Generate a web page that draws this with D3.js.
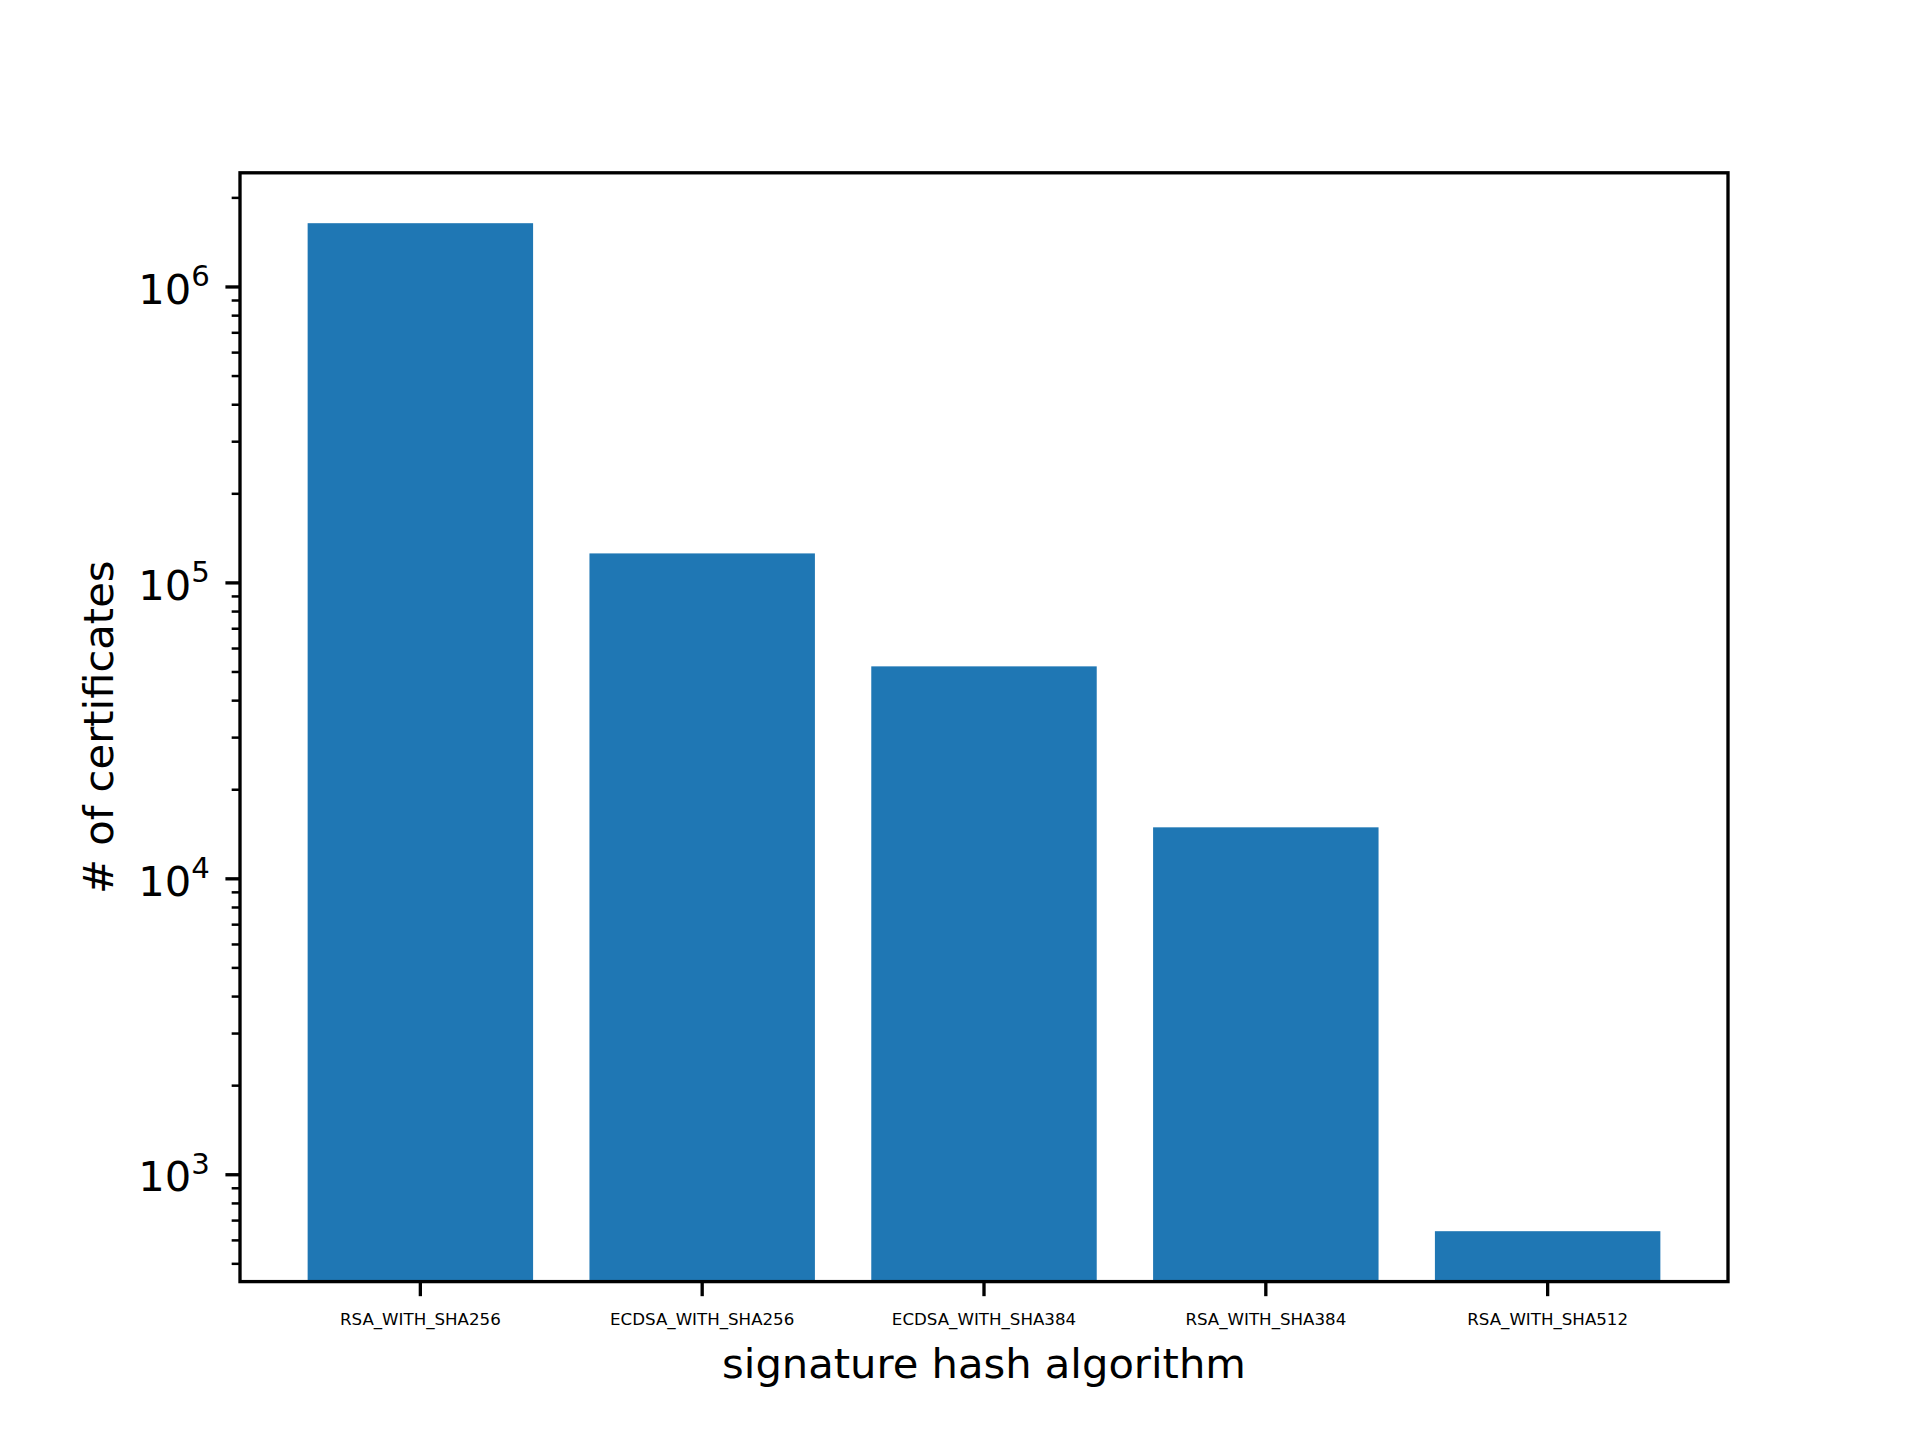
<!DOCTYPE html>
<html>
<head>
<meta charset="utf-8">
<script src="https://cdn.jsdelivr.net/npm/d3@7"></script>
<style>
  html, body { margin: 0; padding: 0; background: #fff; }
  svg { display: block; font-family: "DejaVu Sans", sans-serif; }
</style>
</head>
<body>
<svg id="chart" width="1920" height="1440"></svg>
<script>
const categories = ["RSA_WITH_SHA256", "ECDSA_WITH_SHA256", "ECDSA_WITH_SHA384", "RSA_WITH_SHA384", "RSA_WITH_SHA512"];
const counts = [1636000, 125300, 52030, 14870, 642];
const yMajorTicks = [1e3, 1e4, 1e5, 1e6];
const xLabel = "signature hash algorithm";
const yLabel = "# of certificates";

(function () {
const W = 1920, H = 1440;
const pt = 300 / 72;
const axLeft = 0.125 * W, axRight = 0.9 * W, axTop = 0.12 * H, axBottom = 0.89 * H;

const svg = d3.select("#chart");
svg.append("rect").attr("width", W).attr("height", H).attr("fill", "#fff");

const x = d3.scaleBand().domain(categories).range([axLeft, axRight])
  .paddingInner(0.2).paddingOuter(0.24);

const lmin = Math.log10(d3.min(counts)), lmax = Math.log10(d3.max(counts));
const r = lmax - lmin;
const y = d3.scaleLog().domain([Math.pow(10, lmin - 0.05 * r), Math.pow(10, lmax + 0.05 * r)])
  .range([axBottom, axTop]);

// bars
svg.append("g").selectAll("rect").data(categories).join("rect")
  .attr("x", d => x(d))
  .attr("width", x.bandwidth())
  .attr("y", (d, i) => y(counts[i]))
  .attr("height", (d, i) => axBottom - y(counts[i]))
  .attr("fill", "#1f77b4");

// minor ticks
const [d0, d1] = y.domain();
const minor = [];
for (let e = Math.floor(Math.log10(d0)); e <= Math.ceil(Math.log10(d1)); e++) {
  for (let k = 2; k <= 9; k++) {
    const v = k * Math.pow(10, e);
    if (v >= d0 && v <= d1) minor.push(v);
  }
}
const yMinor = svg.append("g").attr("transform", `translate(${axLeft},0)`)
  .call(d3.axisLeft(y).tickValues(minor).tickSize(2 * pt).tickFormat(""));
yMinor.select(".domain").remove();
yMinor.selectAll("line").attr("stroke", "#000").attr("stroke-width", 0.6 * pt);

// major y ticks
const yAxis = svg.append("g").attr("transform", `translate(${axLeft},0)`)
  .call(d3.axisLeft(y).tickValues(yMajorTicks).tickSize(3.5 * pt).tickPadding(3.5 * pt).tickFormat(""));
yAxis.select(".domain").remove();
yAxis.selectAll("line").attr("stroke", "#000").attr("stroke-width", 0.8 * pt);
yAxis.selectAll(".tick").each(function(d) {
  const g = d3.select(this);
  g.select("text").remove();
  const t = g.append("text")
    .attr("x", -7 * pt - 1)
    .attr("y", 16.7)
    .attr("text-anchor", "end")
    .attr("fill", "#000")
    .style("font-size", (10 * pt) + "px")
    .style("font-family", "DejaVu Sans");
  t.append("tspan").text("10");
  t.append("tspan").attr("dy", -17.7).style("font-size", (10 * pt * 0.7) + "px")
    .text(String(Math.round(Math.log10(d))));
});

// x ticks
const xAxis = svg.append("g").attr("transform", `translate(0,${axBottom})`)
  .call(d3.axisBottom(x).tickSize(3.5 * pt).tickPadding(3.5 * pt));
xAxis.select(".domain").remove();
xAxis.selectAll("line").attr("stroke", "#000").attr("stroke-width", 0.8 * pt);
xAxis.selectAll("text")
  .attr("dy", null)
  .attr("y", 1325 - axBottom)
  .attr("fill", "#000")
  .style("font-size", (4 * pt) + "px")
  .style("font-family", "DejaVu Sans");

// spines
svg.append("rect")
  .attr("x", axLeft).attr("y", axTop)
  .attr("width", axRight - axLeft).attr("height", axBottom - axTop)
  .attr("fill", "none").attr("stroke", "#000").attr("stroke-width", 0.8 * pt);

// axis labels
svg.append("text")
  .attr("x", (axLeft + axRight) / 2).attr("y", 1378)
  .attr("text-anchor", "middle")
  .style("font-size", (10 * pt) + "px")
  .text(xLabel);

svg.append("text")
  .attr("transform", `translate(113,${(axTop + axBottom) / 2}) rotate(-90)`)
  .attr("text-anchor", "middle")
  .style("font-size", (10 * pt) + "px")
  .text(yLabel);
})();
</script>
</body>
</html>
